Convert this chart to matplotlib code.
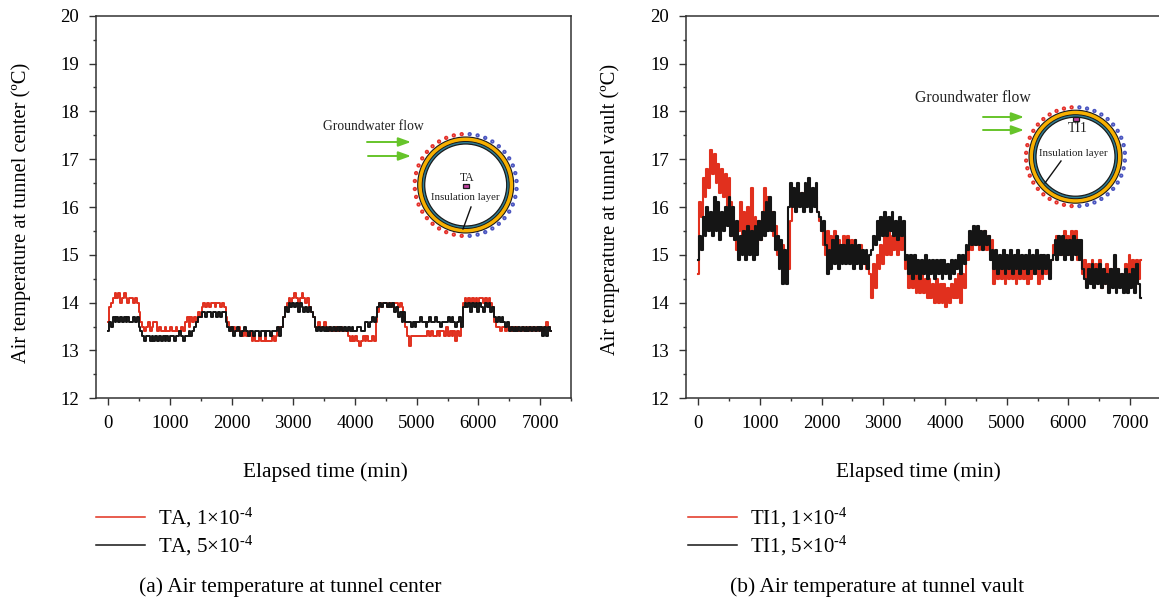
import numpy as np
import matplotlib
matplotlib.use('Agg')
import matplotlib.pyplot as plt
from matplotlib.patches import Circle, Rectangle

plt.rcParams['font.family'] = ['Liberation Serif', 'DejaVu Serif']
plt.rcParams['mathtext.fontset'] = 'custom'
plt.rcParams['mathtext.rm'] = 'Liberation Serif'
plt.rcParams['mathtext.it'] = 'Liberation Serif'
plt.rcParams['mathtext.default'] = 'rm'

# sampled every 30 min, one row = 300 min
sample_step = 30

ta_low = [
    13.6, 13.9, 14.0, 14.1, 14.2, 14.1, 14.2, 14.0, 14.1, 14.2,
    14.1, 14.0, 14.1, 14.1, 14.0, 14.1, 14.0, 13.8, 13.6, 13.5,
    13.4, 13.5, 13.6, 13.4, 13.5, 13.6, 13.6, 13.4, 13.5, 13.4,
    13.4, 13.5, 13.4, 13.4, 13.5, 13.4, 13.4, 13.5, 13.4, 13.4,
    13.5, 13.4, 13.6, 13.7, 13.5, 13.7, 13.6, 13.7, 13.6, 13.8,
    13.7, 13.9, 14.0, 13.9, 14.0, 13.9, 14.0, 14.0, 13.9, 14.0,
    14.0, 13.9, 14.0, 13.9, 13.7, 13.6, 13.5, 13.4, 13.5, 13.4,
    13.4, 13.5, 13.4, 13.3, 13.4, 13.3, 13.3, 13.4, 13.2, 13.3,
    13.2, 13.2, 13.3, 13.2, 13.2, 13.3, 13.2, 13.2, 13.2, 13.3,
    13.2, 13.3, 13.4, 13.5, 13.5, 13.7, 13.9, 14.0, 14.1, 14.0,
    14.1, 14.2, 14.1, 14.0, 14.1, 14.2, 14.1, 14.0, 14.1, 13.9,
    13.8, 13.7, 13.5, 13.5, 13.6, 13.5, 13.5, 13.6, 13.5, 13.4,
    13.5, 13.4, 13.4, 13.5, 13.4, 13.4, 13.5, 13.4, 13.4, 13.4,
    13.3, 13.2, 13.3, 13.2, 13.3, 13.2, 13.1, 13.2, 13.3, 13.2,
    13.3, 13.2, 13.2, 13.3, 13.2, 13.6, 13.8, 14.0, 13.9, 14.0,
    14.0, 13.9, 14.0, 14.0, 13.9, 14.0, 14.0, 13.9, 14.0, 13.9,
    13.7, 13.5, 13.3, 13.1, 13.3, 13.3, 13.3, 13.3, 13.3, 13.3,
    13.3, 13.3, 13.3, 13.4, 13.3, 13.4, 13.3, 13.3, 13.4, 13.3,
    13.4, 13.4, 13.3, 13.5, 13.3, 13.4, 13.3, 13.4, 13.2, 13.4,
    13.3, 13.6, 14.0, 14.1, 14.0, 14.1, 14.0, 14.1, 14.0, 14.1,
    14.0, 14.1, 14.1, 14.0, 14.1, 14.0, 14.1, 14.0, 13.9, 13.6,
    13.5, 13.5, 13.4, 13.5, 13.5, 13.4, 13.5, 13.5, 13.4, 13.5,
    13.4, 13.5, 13.4, 13.4, 13.5, 13.4, 13.5, 13.4, 13.5, 13.4,
    13.5, 13.4, 13.5, 13.4, 13.5, 13.4, 13.5, 13.6, 13.5, 13.4,
]
ta_high = [
    13.4, 13.6, 13.5, 13.7, 13.6, 13.7, 13.6, 13.7, 13.6, 13.7,
    13.6, 13.7, 13.6, 13.6, 13.7, 13.6, 13.7, 13.5, 13.4, 13.3,
    13.2, 13.3, 13.3, 13.2, 13.3, 13.2, 13.3, 13.2, 13.3, 13.2,
    13.3, 13.2, 13.3, 13.2, 13.3, 13.3, 13.2, 13.3, 13.3, 13.4,
    13.3, 13.2, 13.3, 13.3, 13.4, 13.3, 13.4, 13.5, 13.6, 13.7,
    13.7, 13.8, 13.8, 13.7, 13.8, 13.8, 13.7, 13.8, 13.8, 13.7,
    13.8, 13.7, 13.8, 13.8, 13.6, 13.5, 13.4, 13.5, 13.3, 13.4,
    13.5, 13.4, 13.3, 13.4, 13.5, 13.4, 13.3, 13.4, 13.4, 13.3,
    13.4, 13.4, 13.3, 13.4, 13.4, 13.3, 13.4, 13.4, 13.3, 13.4,
    13.4, 13.4, 13.5, 13.3, 13.5, 13.7, 13.9, 13.8, 14.0, 13.9,
    14.0, 13.9, 14.0, 13.8, 14.0, 13.9, 13.8, 13.9, 13.8, 13.9,
    13.8, 13.7, 13.5, 13.4, 13.5, 13.4, 13.5, 13.4, 13.5, 13.4,
    13.5, 13.4, 13.5, 13.4, 13.5, 13.4, 13.5, 13.4, 13.5, 13.4,
    13.5, 13.4, 13.5, 13.4, 13.4, 13.5, 13.5, 13.4, 13.4, 13.6,
    13.6, 13.5, 13.6, 13.7, 13.6, 13.7, 13.9, 14.0, 13.9, 14.0,
    14.0, 13.9, 14.0, 13.9, 14.0, 13.8, 13.9, 13.7, 13.8, 13.6,
    13.8, 13.6, 13.6, 13.6, 13.5, 13.6, 13.5, 13.6, 13.6, 13.7,
    13.6, 13.6, 13.5, 13.6, 13.7, 13.6, 13.6, 13.7, 13.6, 13.6,
    13.5, 13.6, 13.6, 13.6, 13.7, 13.6, 13.7, 13.6, 13.5, 13.6,
    13.7, 13.5, 13.9, 14.0, 13.9, 14.0, 13.8, 14.0, 13.9, 14.0,
    13.8, 14.0, 13.9, 13.8, 14.0, 13.9, 14.0, 13.8, 13.9, 13.7,
    13.6, 13.7, 13.6, 13.7, 13.6, 13.5, 13.6, 13.4, 13.5, 13.4,
    13.5, 13.4, 13.5, 13.4, 13.5, 13.4, 13.5, 13.4, 13.5, 13.4,
    13.5, 13.4, 13.5, 13.4, 13.5, 13.3, 13.5, 13.3, 13.5, 13.4,
]
ti1_low = [
    14.6, 16.1, 15.8, 16.6, 16.2, 16.8, 16.4, 17.2, 16.7, 17.1,
    16.5, 16.9, 16.3, 16.8, 16.2, 16.7, 15.7, 16.6, 16.1, 15.4,
    15.6, 15.1, 15.5, 16.1, 15.2, 15.9, 15.3, 16.0, 15.4, 16.4,
    15.3, 15.8, 15.2, 15.7, 15.3, 15.9, 16.4, 15.5, 16.2, 15.6,
    15.9, 15.4, 15.6, 15.0, 15.2, 14.9, 15.2, 14.7, 15.0, 14.7,
    15.7, 16.0, 16.2, 16.0, 16.3, 16.1, 16.3, 16.0, 16.3, 16.1,
    16.3, 16.0, 16.3, 16.1, 16.2, 15.9, 15.7, 15.5, 15.2, 15.0,
    15.5, 14.9, 15.4, 15.0, 15.5, 14.9, 15.3, 15.0, 15.2, 15.4,
    15.0, 15.4, 14.9, 15.3, 15.0, 15.3, 15.1, 14.9, 15.2, 14.8,
    15.0, 14.7, 14.9, 14.6, 14.1, 14.8, 14.3, 15.0, 14.7, 15.2,
    14.8, 15.4, 15.0, 15.5, 15.0, 15.4, 15.1, 15.4, 15.0, 15.4,
    15.1, 15.4, 14.7, 14.9, 14.3, 14.7, 14.3, 14.6, 14.2, 14.6,
    14.2, 14.6, 14.2, 14.5, 14.1, 14.5, 14.1, 14.4, 14.0, 14.5,
    14.0, 14.4, 14.0, 14.4, 13.9, 14.3, 14.0, 14.4, 14.1, 14.5,
    14.1, 14.6, 14.0, 14.6, 14.3, 15.1, 14.9, 15.4, 15.1, 15.5,
    15.2, 15.5, 15.1, 15.4, 15.2, 15.5, 15.1, 15.4, 15.0, 15.3,
    14.4, 14.8, 14.5, 14.8, 14.5, 14.7, 14.4, 14.7, 14.5, 14.8,
    14.5, 14.7, 14.4, 14.7, 14.5, 14.8, 14.5, 14.7, 14.4, 14.7,
    14.5, 14.8, 14.6, 14.8, 14.4, 14.7, 14.5, 14.8, 14.6, 14.8,
    14.6, 14.9, 15.2, 15.0, 15.4, 15.0, 15.3, 15.0, 15.5, 15.0,
    15.4, 15.0, 15.5, 15.1, 15.5, 14.9, 15.3, 14.9, 14.6, 14.9,
    14.4, 14.8, 14.5, 14.9, 14.4, 14.8, 14.5, 14.9, 14.3, 14.7,
    14.4, 14.8, 14.3, 14.7, 14.4, 14.9, 14.3, 14.7, 14.4, 14.6,
    14.3, 14.8, 14.4, 15.0, 14.5, 14.9, 14.3, 14.9, 14.5, 14.9,
]
ti1_high = [
    14.9, 15.4, 15.1, 15.8, 15.4, 16.0, 15.5, 15.9, 15.4, 16.2,
    15.5, 16.1, 15.3, 15.9, 15.5, 16.0, 15.6, 16.2, 15.4, 16.0,
    15.3, 15.7, 14.9, 15.4, 15.0, 15.5, 14.9, 15.6, 15.0, 15.5,
    14.9, 15.6, 15.0, 15.7, 15.3, 15.9, 15.4, 16.1, 15.5, 16.2,
    15.5, 15.9, 15.1, 15.4, 14.7, 15.3, 14.4, 15.1, 14.4, 16.0,
    16.5, 16.0, 16.4, 15.9, 16.5, 16.0, 16.3, 15.9, 16.5, 16.0,
    16.6, 15.9, 16.4, 16.0, 16.5, 15.9, 15.8, 15.5, 15.7, 15.2,
    14.6, 15.1, 14.7, 15.3, 14.8, 15.4, 14.7, 15.2, 14.8, 15.2,
    14.8, 15.3, 14.8, 15.2, 14.7, 15.3, 14.8, 15.2, 14.7, 15.1,
    14.8, 15.1, 14.7, 15.0, 15.1, 15.4, 15.2, 15.7, 15.3, 15.8,
    15.4, 15.9, 15.4, 15.8, 15.5, 15.9, 15.4, 15.7, 15.3, 15.8,
    15.4, 15.7, 14.9, 15.0, 14.6, 15.0, 14.5, 15.0, 14.6, 14.9,
    14.5, 14.9, 14.6, 15.0, 14.5, 14.9, 14.6, 14.9, 14.5, 14.9,
    14.6, 14.9, 14.5, 14.9, 14.6, 14.8, 14.5, 14.9, 14.6, 14.9,
    14.7, 15.0, 14.6, 15.0, 14.8, 15.2, 15.1, 15.5, 15.2, 15.6,
    15.2, 15.6, 15.2, 15.5, 15.1, 15.5, 15.2, 15.4, 14.9, 15.1,
    14.7, 15.1, 14.6, 15.0, 14.7, 15.1, 14.6, 15.0, 14.7, 15.1,
    14.6, 15.0, 14.7, 15.1, 14.6, 15.0, 14.7, 15.0, 14.6, 15.1,
    14.7, 15.0, 14.6, 15.1, 14.7, 15.0, 14.6, 15.0, 14.7, 15.0,
    14.5, 14.9, 15.0, 15.3, 14.9, 15.4, 15.0, 15.4, 14.9, 15.3,
    15.0, 15.3, 14.9, 15.4, 15.0, 15.3, 14.9, 15.3, 14.7, 14.5,
    14.3, 14.7, 14.4, 14.8, 14.3, 14.7, 14.4, 14.8, 14.3, 14.7,
    14.4, 14.6, 14.2, 14.7, 14.3, 15.0, 14.2, 14.7, 14.3, 14.6,
    14.2, 14.7, 14.2, 14.6, 14.3, 14.7, 14.2, 14.8, 14.4, 14.1,
]

x_ticks = [0, 1000, 2000, 3000, 4000, 5000, 6000, 7000]
y_ticks = [12, 13, 14, 15, 16, 17, 18, 19, 20]
red = '#e1301e'
black = '#151515'
spine = '#333333'
W, H = 1159, 601


def make_axes(left, right):
    ax = fig.add_axes([left / W, 1 - 398.3 / H, (right - left) / W, (398.3 - 15.7) / H])
    ax.set_xlim(-200, 7500)
    ax.set_ylim(12, 20)
    ax.set_xticks(x_ticks)
    ax.set_yticks(y_ticks)
    ax.set_xticks(np.arange(500, 7600, 1000), minor=True)
    ax.set_yticks(np.arange(12.5, 20, 0.5), minor=True)
    ax.tick_params(which='major', length=5, width=1, color=spine, labelsize=13.5, pad=7)
    ax.tick_params(which='minor', length=2.5, width=1, color=spine)
    for s in ax.spines.values():
        s.set_color(spine)
        s.set_linewidth(1.1)
    return ax


def tunnel(over, cx, cy, r):
    # schematic: dots around the ring, red upstream and blue downstream
    for a in np.arange(4.5, 360, 9):
        rad = np.deg2rad(a)
        c = '#4a55c0' if np.cos(rad) > 0 else '#e5302a'
        over.add_patch(Circle((cx + (r + 3) * np.cos(rad), cy + (r + 3) * np.sin(rad)), 1.3,
                              fc='#f4c8c8' if np.cos(rad) <= 0 else '#c8ccf0', ec=c, lw=1.2))
    over.add_patch(Circle((cx, cy), r, fc='#f7b000', ec='#1a1a1a', lw=0.8))
    over.add_patch(Circle((cx, cy), r - 4.5, fc='#2f7f95', ec='#1a1a1a', lw=0.7))
    over.add_patch(Circle((cx, cy), r - 7, fc='white', ec='#1a1a1a', lw=0.9))


def arrow(over, x0, x1, y):
    over.annotate('', xy=(x1, y), xytext=(x0, y),
                  arrowprops=dict(arrowstyle='-|>,head_length=0.75,head_width=0.27',
                                  color='#66c42a', lw=1.4, shrinkA=0, shrinkB=0))


fig = plt.figure(figsize=(W / 100, H / 100), dpi=100)

ax1 = make_axes(95.7, 571)
t = sample_step * np.arange(len(ta_low))
ax1.plot(t, ta_low, color=red, lw=1.4, drawstyle='steps-mid', label='TA, 1×10$^{\\text{-}4}$')
ax1.plot(t, ta_high, color=black, lw=1.4, drawstyle='steps-mid', label='TA, 5×10$^{\\text{-}4}$')

ax2 = make_axes(685.7, 1161)
t = sample_step * np.arange(len(ti1_low))
ax2.plot(t, ti1_low, color=red, lw=1.5, drawstyle='steps-mid', label='TI1, 1×10$^{\\text{-}4}$')
ax2.plot(t, ti1_high, color=black, lw=1.5, drawstyle='steps-mid', label='TI1, 5×10$^{\\text{-}4}$')

for ax, lx in ((ax1, 77.7), (ax2, 669.7)):
    leg = ax.legend(loc='upper left', bbox_to_anchor=(lx / W, 1 - 487 / H),
                    bbox_transform=fig.transFigure, frameon=False, fontsize=15,
                    handlelength=2.35, handletextpad=0.62, labelspacing=0.2)
    for h in leg.get_lines():
        h.set_linewidth(1.1)
        h.set_drawstyle('default')

# everything placed in picture pixels goes on this layer
over = fig.add_axes([0, 0, 1, 1], facecolor='none')
over.set_xlim(0, W)
over.set_ylim(H, 0)
over.axis('off')

over.text(21, 213, 'Air temperature at tunnel center (ºC)', rotation=90, ha='center', va='center', fontsize=14.8)
over.text(610, 209, 'Air temperature at tunnel vault (ºC)', rotation=90, ha='center', va='center', fontsize=14.8)
over.text(325, 472, 'Elapsed time (min)', ha='center', va='center', fontsize=15.4)
over.text(918, 472, 'Elapsed time (min)', ha='center', va='center', fontsize=15.4)
over.text(290, 587, '(a) Air temperature at tunnel center', ha='center', va='center', fontsize=15.4)
over.text(877, 587, '(b) Air temperature at tunnel vault', ha='center', va='center', fontsize=15.4)

# inset (a)
tunnel(over, 465.7, 185, 48)
over.add_patch(Rectangle((463, 184), 6, 4, fc='#c040a0', ec='#1a1a1a', lw=0.9))
over.plot([471, 463], [207, 229], color='#111111', lw=1)
arrow(over, 367, 411, 142)
arrow(over, 368, 411, 156)
over.text(373, 126, 'Groundwater flow', ha='center', va='center', fontsize=9.8, color='#222222')
over.text(467, 178, 'TA', ha='center', va='center', fontsize=8.5, color='#222222')
over.text(465, 198, 'Insulation layer', ha='center', va='center', fontsize=7.8, color='#222222')

# inset (b)
tunnel(over, 1075.5, 156.7, 46.5)
over.add_patch(Rectangle((1073, 117), 6, 4, fc='#c040a0', ec='#1a1a1a', lw=0.9))
over.plot([1061, 1045], [161, 183], color='#111111', lw=1)
arrow(over, 983, 1024, 117)
arrow(over, 983, 1024, 130)
over.text(973, 98, 'Groundwater flow', ha='center', va='center', fontsize=11.3, color='#222222')
over.text(1078, 128, 'TI1', ha='center', va='center', fontsize=10, color='#222222')
over.text(1073, 154, 'Insulation layer', ha='center', va='center', fontsize=7.8, color='#222222')

fig.savefig('out.png', dpi=100)
